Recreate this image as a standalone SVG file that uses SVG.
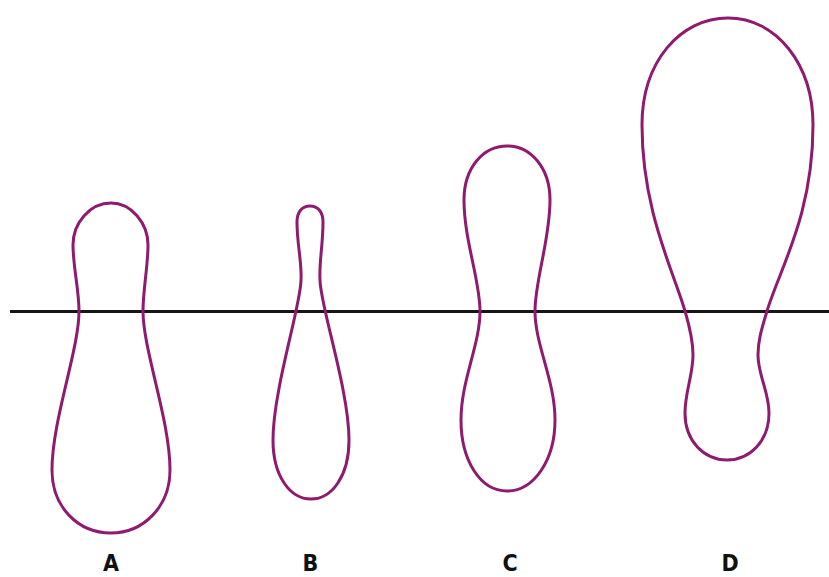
<svg xmlns="http://www.w3.org/2000/svg" width="829" height="577" viewBox="0 0 829 577">
<style>
.shape{fill:none;stroke:#8e1b6e;stroke-width:3;stroke-linejoin:round}
.axis{stroke:#161616;stroke-width:3.2;fill:none}
.lbl{font-family:"Liberation Sans Narrow","DejaVu Sans Condensed","Liberation Sans",sans-serif;font-stretch:condensed;font-weight:bold;font-size:23px;fill:#111;text-anchor:middle}
</style>
<rect width="829" height="577" fill="#fff"/>
<g id="connectors">
<line class="axis" x1="10" y1="311.5" x2="829" y2="311.5"/>
</g>
<g id="shapeA">
<path class="shape" d="M111,203 C131,203 148,223 148,245 C148,266 143,290 143,311 C143,350 170,420 170,470 C170,507 143,533 111,533 C78,533 52,507 52,470 C52,420 79,350 79,311 C79,290 73,266 73,245 C73,223 90,203 111,203 Z"/>
<text class="lbl" x="111" y="571">A</text>
</g>
<g id="shapeB">
<path class="shape" d="M310,206 C318,206 323,212 323,222 C323,245 319,262 320,280 C320,305 349,390 349,440 C349,476 332,499 311,499 C290,499 273,476 273,440 C273,390 301,305 301,280 C302,262 297,245 297,222 C297,212 302,206 310,206 Z"/>
<text class="lbl" x="310.5" y="571">B</text>
</g>
<g id="shapeC">
<path class="shape" d="M507,146 C531,146 550,168 550,200 C550,240 535,280 535,311 C535,345 555,380 555,420 C555,460 534,491 507,491 C480,491 461,460 461,420 C461,380 480,345 480,311 C480,280 464,240 464,200 C464,168 483,146 507,146 Z"/>
<text class="lbl" x="510" y="571">C</text>
</g>
<g id="shapeD">
<path class="shape" d="M728,18 C777,18 813,65 813,125 C813,215 780,268 767,311 C762,328 758,340 758,355 C758,375 769,392 769,413 C769,441 750,460 727,460 C704,460 685,441 685,413 C685,392 693,375 693,355 C693,340 690,328 685,311 C673,270 642,210 642,125 C642,62 680,18 728,18 Z"/>
<text class="lbl" x="730" y="571">D</text>
</g>
</svg>
